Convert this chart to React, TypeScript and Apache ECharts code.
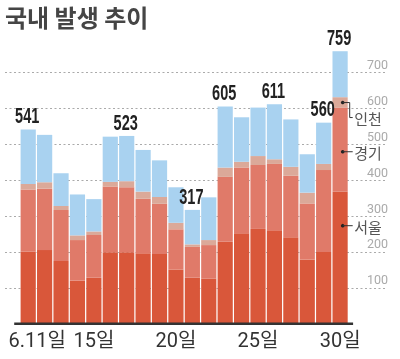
import React, { useEffect, useRef } from "react";
import * as echarts from "echarts";

const days = ["11", "12", "13", "14", "15", "16", "17", "18", "19", "20", "21", "22", "23", "24", "25", "26", "27", "28", "29", "30"];
const tickIndices = [0, 4, 9, 14, 19];
const tickLabels = ["6.11일", "15일", "20일", "25일", "30일"];

const seoul = [201, 205, 175, 120, 128, 199, 199, 196, 194, 151, 128, 126, 228, 252, 264, 260, 241, 179, 200, 368];
const gyeonggi = [173, 171, 142, 113, 119, 183, 181, 152, 140, 112, 86, 93, 181, 183, 178, 185, 171, 156, 228, 234];
const incheon = [15, 18, 11, 13, 10, 13, 17, 20, 19, 18, 7, 14, 26, 16, 25, 13, 25, 30, 17, 29];
const others = [152, 132, 91, 114, 90, 126, 126, 116, 102, 99, 96, 119, 170, 124, 135, 153, 132, 107, 115, 128];

const labeledIndices = [0, 6, 10, 12, 15, 18, 19];

const yTicks = [100, 200, 300, 400, 500, 600, 700];

// annotation names and anchor values (on the last bar)
const annNames = ["인천", "경기", "서울"];
const annAnchors = [616, 479, 273];

const SANS = "Roboto, 'Liberation Sans', 'Noto Sans CJK KR', sans-serif";
const LIB = "'Liberation Sans', Arial, sans-serif";
const CJK = "'Noto Sans CJK KR', sans-serif";

export default function App() {
  const ref = useRef<HTMLDivElement>(null);
  useEffect(() => {
    if (!ref.current) return;
    const chart = echarts.init(ref.current, null, { renderer: "svg" });
    const totals = days.map((_, i) => seoul[i] + gyeonggi[i] + incheon[i] + others[i]);
    const top = 72.4;
    const bottom = 35.3;
    const barW = 15.2;
    const mk = (name: string, data: number[], color: string) => ({
      type: "bar",
      name,
      stack: "t",
      xAxisIndex: 1,
      yAxisIndex: 1,
      data,
      barWidth: barW,
      clip: false,
      itemStyle: { color },
    });
    chart.setOption({
      animation: false,
      title: {
        text: "국내 발생 추이",
        left: 5,
        top: 0,
        padding: 0,
        textStyle: { fontFamily: CJK, fontSize: 24, lineHeight: 32, fontWeight: "bold", color: "#454545" },
      },
      grid: [
        { left: 5, right: 14, top, bottom },
        { left: 20, right: 51.7, top, bottom },
      ],
      xAxis: [
        { type: "value", gridIndex: 0, show: false, min: 0, max: 1 },
        {
          type: "category",
          gridIndex: 1,
          data: days,
          axisLine: { show: false },
          axisTick: { show: false },
          axisLabel: {
            interval: (idx: number) => tickIndices.includes(idx),
            formatter: (_v: string, idx: number) => {
              const k = tickIndices.indexOf(idx);
              if (k < 0) return "";
              return k === 0 ? "{first|" + tickLabels[k] + "}" : tickLabels[k];
            },
            rich: { first: { padding: [0, 0, 0, 18], fontFamily: SANS, fontSize: 20, color: "#333" } },
            fontFamily: SANS,
            fontSize: 20,
            color: "#333",
            margin: 6,
          },
        },
      ],
      yAxis: [
        {
          type: "value",
          gridIndex: 0,
          position: "right",
          min: 0,
          max: 700,
          interval: 100,
          axisLine: { show: false },
          axisTick: { show: false },
          splitLine: { show: true, showMinLine: false, lineStyle: { color: "#aaa", type: [2, 2.5], width: 1.2 } },
          axisLabel: {
            inside: true,
            margin: -2,
            verticalAlign: "bottom",
            lineHeight: 12,
            padding: [0, 0, 2, 0],
            fontFamily: SANS,
            fontSize: 12.5,
            color: "#aaa",
            formatter: (v: number) => (yTicks.includes(v) ? String(v) : ""),
          },
        },
        { type: "value", gridIndex: 1, show: false, min: 0, max: 700, interval: 100 },
      ],
      series: [
        mk("서울", seoul, "#d9573a"),
        mk("경기", gyeonggi, "#e07a69"),
        mk("인천", incheon, "#dba999"),
        mk("기타", others, "#a9d2f0"),
        {
          type: "custom",
          name: "합계",
          xAxisIndex: 1,
          yAxisIndex: 1,
          clip: false,
          z: 5,
          data: labeledIndices.map((i) => [i, totals[i]]),
          renderItem: (_params: any, api: any) => {
            const p = api.coord([api.value(0), api.value(1)]);
            return {
              type: "text",
              x: p[0] - 1,
              y: p[1] - 3,
              scaleX: 0.66,
              style: {
                text: String(api.value(1)),
                fontFamily: LIB,
                fontSize: 22,
                fontWeight: "bold",
                fill: "#222",
                align: "center",
                verticalAlign: "bottom",
              },
            };
          },
        },
      ],
    });

    const last = days.length - 1;
    const x0 = chart.convertToPixel({ xAxisIndex: 1, yAxisIndex: 1 } as any, [last, 0]) as number[];
    const left = chart.convertToPixel({ xAxisIndex: 1, yAxisIndex: 1 } as any, [0, 0]) as number[];
    const baseY = x0[1];
    const dotX = x0[0] + 2.6;
    const lineEnd = dotX + 10;
    const textX = dotX + 11.5;
    const g: any[] = [
      {
        type: "line",
        shape: { x1: left[0] - 14, y1: baseY, x2: x0[0] + 13, y2: baseY },
        style: { stroke: "#333", lineWidth: 2.5 },
        z: 10,
      },
    ];
    annNames.forEach((name, i) => {
      const p = chart.convertToPixel({ xAxisIndex: 1, yAxisIndex: 1 } as any, [last, annAnchors[i]]) as number[];
      const y = p[1];
      g.push({ type: "circle", shape: { cx: dotX, cy: y, r: 1.8 }, style: { fill: "#222" }, z: 10 });
      let ty = y;
      if (i === 0) {
        ty = y + 15;
        g.push({
          type: "polyline",
          shape: { points: [[dotX, y], [dotX + 7, y], [dotX + 7, ty], [lineEnd, ty]] },
          style: { stroke: "#333", lineWidth: 1, fill: null },
          z: 10,
        });
      } else {
        g.push({
          type: "line",
          shape: { x1: dotX, y1: y, x2: lineEnd, y2: y },
          style: { stroke: "#333", lineWidth: 1 },
          z: 10,
        });
      }
      g.push({
        type: "text",
        x: textX,
        y: ty + 1,
        style: { text: name, fontFamily: CJK, fontSize: 15, fill: "#555", verticalAlign: "middle", align: "left" },
        z: 10,
      });
    });
    chart.setOption({ graphic: g });
    return () => chart.dispose();
  }, []);
  return <div ref={ref} style={{ position: "fixed", left: 0, top: 0, width: 400, height: 359 }} />;
}
